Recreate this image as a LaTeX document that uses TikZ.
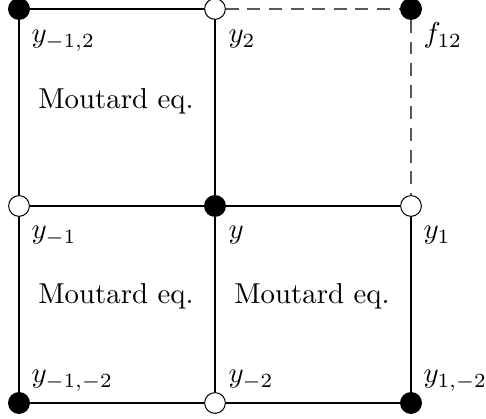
\documentclass[tikz,border=0pt]{standalone}
\begin{document}
\begin{tikzpicture}[x=0.3472pt,y=-0.3472pt,
  bullet/.style={circle,draw=black,fill=black,minimum size=7.2pt,inner sep=0pt},
  hollow/.style={circle,draw=black,fill=white,minimum size=7.2pt,inner sep=0pt,line width=0.35pt},
  lab/.style={anchor=base west,inner sep=0pt},
  edge/.style={draw=black,line width=0.4pt},
  dashedge/.style={draw=black!65,line width=0.5pt,dash pattern=on 4.5pt off 3pt}]
\useasboundingbox (0,0) rectangle (486,419);
% nodes
\node[bullet] (a) at (19,9) {};
\node[hollow] (b) at (215,9) {};
\node[bullet] (c) at (411,9) {};
\node[hollow] (d) at (19,206) {};
\node[bullet] (e) at (215,206) {};
\node[hollow] (f) at (411,206) {};
\node[bullet] (g) at (19,403) {};
\node[hollow] (h) at (215,403) {};
\node[bullet] (i) at (411,403) {};
% edges
\path[edge] (a) -- (b);
\path[edge] (a) -- (d);
\path[edge] (b) -- (e);
\path[edge] (d) -- (e);
\path[edge] (e) -- (f);
\path[edge] (d) -- (g);
\path[edge] (e) -- (h);
\path[edge] (f) -- (i);
\path[edge] (g) -- (h);
\path[edge] (h) -- (i);
\path[dashedge] (b) -- (c);
\path[dashedge] (c) -- (f);
% labels
\node[lab] (la) at (31,43) {$y_{-1,2}$};
\node[lab] (lb) at (228,43) {$y_{2}$};
\node[lab] (lc) at (423,43) {$f_{12}$};
\node[lab] (ld) at (31,239) {$y_{-1}$};
\node[lab] (le) at (228,239) {$y$};
\node[lab] (lf) at (423,239) {$y_{1}$};
\node[lab] (lg) at (31,383) {$y_{-1,-2}$};
\node[lab] (lh) at (228,383) {$y_{-2}$};
\node[lab] (li) at (423,383) {$y_{1,-2}$};
\node (m1) at (116,101) {Moutard eq.};
\node (m2) at (116,296) {Moutard eq.};
\node (m3) at (312,296) {Moutard eq.};
\end{tikzpicture}
\end{document}
